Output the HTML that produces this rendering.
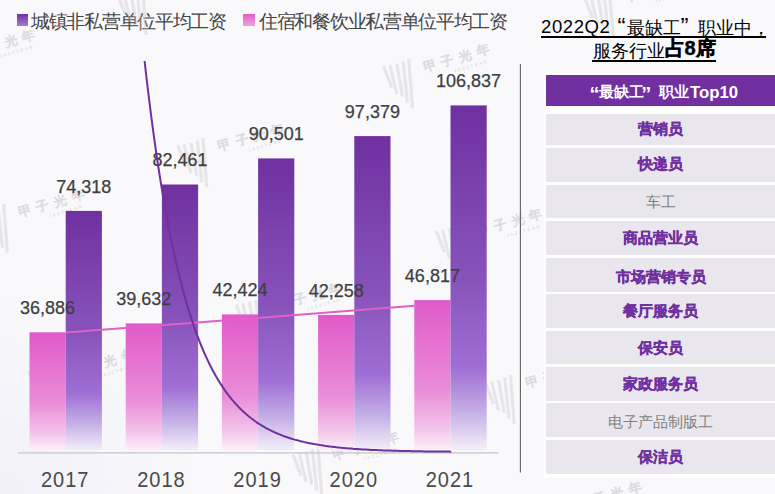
<!DOCTYPE html>
<html><head><meta charset="utf-8"><style>
*{margin:0;padding:0;box-sizing:border-box}
html,body{width:775px;height:494px;overflow:hidden;background:radial-gradient(circle at 0 100%,#f2f0f9 0,#f5f4fa 90px,rgba(249,249,251,0) 200px),#f9f9fb;font-family:"Liberation Sans",sans-serif;}
.abs{position:absolute}
svg{position:absolute;left:0;top:0}
.lb{font-family:"Liberation Sans",sans-serif;font-size:18px;fill:#3f3f3f;text-anchor:middle;stroke:#3f3f3f;stroke-width:.25px}
.yr{font-family:"Liberation Sans",sans-serif;font-size:22px;fill:#4a4a4a;text-anchor:middle;letter-spacing:1.1px}
.wm path{stroke:#c4c4c8;stroke-opacity:.36}
.wmt{font-family:"Liberation Sans",sans-serif;font-size:13px;font-weight:bold;letter-spacing:5.3px;fill:#c4c4c8;fill-opacity:.32;stroke:#c4c4c8;stroke-opacity:.32;stroke-width:.7px}
.wms{font-family:"Liberation Sans",sans-serif;font-size:4.5px;font-weight:bold;letter-spacing:1.5px;fill:#c4c4c8;fill-opacity:.5}
.leg{position:absolute;top:10.5px;font-size:19px;letter-spacing:-1.3px;color:#454545;white-space:nowrap;line-height:22px}
.sq{position:absolute;top:14.3px;width:11.6px;height:11.4px}
.tbl{position:absolute;left:544px;top:73px;width:231px;height:405px;background:#fff}
.hd{position:absolute;left:546px;top:75px;width:229px;height:31px;background:#7030a0;color:#fff;font-weight:bold;font-size:15px;line-height:31px}
.hd span{position:absolute;top:1.5px;white-space:nowrap}
.hq{font-size:20px;top:3.5px!important}
.hc{font-size:14.5px}
.hl{font-size:16.8px}
.r{position:absolute;left:546px;width:229px;background:#e9e7ed;text-align:center;font-size:15px}
.r.b{color:#7030a0;font-weight:bold;-webkit-text-stroke:.35px #7030a0}
.r.g{color:#7f7f7f}
.t1{position:absolute;top:13px;font-size:18px;line-height:24px;color:#000;white-space:nowrap}
.t2{position:absolute;top:37.5px;font-size:17.5px;line-height:24px;color:#000;white-space:nowrap}
.t1.cj{font-size:17.5px}
.t1.q{font-size:24px}
.ul{position:absolute;height:2px;background:#000}
</style></head><body>
<div class="sq" style="left:16.6px;background:linear-gradient(#7030a0,#a57ad6)"></div>
<div class="leg" style="left:31px">城镇非私营单位平均工资</div>
<div class="sq" style="left:243.2px;background:linear-gradient(#e060c8,#f0a0e0)"></div>
<div class="leg" style="left:259px">住宿和餐饮业私营单位平均工资</div>
<svg width="775" height="494" viewBox="0 0 775 494">
<defs>
<linearGradient id="gp" x1="0" y1="0" x2="0" y2="1">
<stop offset="0" stop-color="#7030a0"/>
<stop offset="0.5" stop-color="#8753bb"/>
<stop offset="0.76" stop-color="#9e6fd4"/>
<stop offset="0.89" stop-color="#c6b0e6"/>
<stop offset="1" stop-color="#f4f0fa"/>
</linearGradient>
<linearGradient id="gk" x1="0" y1="0" x2="0" y2="1">
<stop offset="0" stop-color="#e05ac8"/>
<stop offset="0.6" stop-color="#ea8dd8"/>
<stop offset="0.85" stop-color="#f3c3e9"/>
<stop offset="1" stop-color="#fcf2fa"/>
</linearGradient>
</defs>
<line x1="17.8" y1="452.9" x2="498.4" y2="452.9" stroke="#d3d3d8" stroke-width="1.8"/>
<g transform="translate(424.3,69.7)" class="wm"><path d="M-40.7,-3.4L-32.5,17.9 M-34.4,-4.7L-27.5,24.2 M-27.5,-5.9L-21.8,26.7 M-21.2,-8.4L-16.8,33.0 M-15.6,-10.9L-11.8,38.0" stroke-width="3.2" fill="none"/><text transform="rotate(-16)" x="0" y="2" class="wmt">甲子光年</text><text transform="rotate(-16)" x="28" y="11" class="wms">JAZZYEAR</text></g><g transform="translate(218.5,149)" class="wm"><path d="M-40.7,-3.4L-32.5,17.9 M-34.4,-4.7L-27.5,24.2 M-27.5,-5.9L-21.8,26.7 M-21.2,-8.4L-16.8,33.0 M-15.6,-10.9L-11.8,38.0" stroke-width="3.2" fill="none"/><text transform="rotate(-16)" x="0" y="2" class="wmt">甲子光年</text><text transform="rotate(-16)" x="28" y="11" class="wms">JAZZYEAR</text></g><g transform="translate(-30,55)" class="wm"><path d="M-40.7,-3.4L-32.5,17.9 M-34.4,-4.7L-27.5,24.2 M-27.5,-5.9L-21.8,26.7 M-21.2,-8.4L-16.8,33.0 M-15.6,-10.9L-11.8,38.0" stroke-width="3.2" fill="none"/><text transform="rotate(-16)" x="0" y="2" class="wmt">甲子光年</text><text transform="rotate(-16)" x="28" y="11" class="wms">JAZZYEAR</text></g><g transform="translate(19.2,214.7)" class="wm"><path d="M-40.7,-3.4L-32.5,17.9 M-34.4,-4.7L-27.5,24.2 M-27.5,-5.9L-21.8,26.7 M-21.2,-8.4L-16.8,33.0 M-15.6,-10.9L-11.8,38.0" stroke-width="3.2" fill="none"/><text transform="rotate(-16)" x="0" y="2" class="wmt">甲子光年</text><text transform="rotate(-16)" x="28" y="11" class="wms">JAZZYEAR</text></g><g transform="translate(69.6,374.7)" class="wm"><path d="M-40.7,-3.4L-32.5,17.9 M-34.4,-4.7L-27.5,24.2 M-27.5,-5.9L-21.8,26.7 M-21.2,-8.4L-16.8,33.0 M-15.6,-10.9L-11.8,38.0" stroke-width="3.2" fill="none"/><text transform="rotate(-16)" x="0" y="2" class="wmt">甲子光年</text><text transform="rotate(-16)" x="28" y="11" class="wms">JAZZYEAR</text></g><g transform="translate(333.6,457.7)" class="wm"><path d="M-40.7,-3.4L-32.5,17.9 M-34.4,-4.7L-27.5,24.2 M-27.5,-5.9L-21.8,26.7 M-21.2,-8.4L-16.8,33.0 M-15.6,-10.9L-11.8,38.0" stroke-width="3.2" fill="none"/><text transform="rotate(-16)" x="0" y="2" class="wmt">甲子光年</text><text transform="rotate(-16)" x="28" y="11" class="wms">JAZZYEAR</text></g><g transform="translate(477,234.5)" class="wm"><path d="M-40.7,-3.4L-32.5,17.9 M-34.4,-4.7L-27.5,24.2 M-27.5,-5.9L-21.8,26.7 M-21.2,-8.4L-16.8,33.0 M-15.6,-10.9L-11.8,38.0" stroke-width="3.2" fill="none"/><text transform="rotate(-16)" x="0" y="2" class="wmt">甲子光年</text><text transform="rotate(-16)" x="28" y="11" class="wms">JAZZYEAR</text></g><g transform="translate(526,386)" class="wm"><path d="M-40.7,-3.4L-32.5,17.9 M-34.4,-4.7L-27.5,24.2 M-27.5,-5.9L-21.8,26.7 M-21.2,-8.4L-16.8,33.0 M-15.6,-10.9L-11.8,38.0" stroke-width="3.2" fill="none"/><text transform="rotate(-16)" x="0" y="2" class="wmt">甲子光年</text><text transform="rotate(-16)" x="28" y="11" class="wms">JAZZYEAR</text></g><g transform="translate(576.6,507)" class="wm"><path d="M-40.7,-3.4L-32.5,17.9 M-34.4,-4.7L-27.5,24.2 M-27.5,-5.9L-21.8,26.7 M-21.2,-8.4L-16.8,33.0 M-15.6,-10.9L-11.8,38.0" stroke-width="3.2" fill="none"/><text transform="rotate(-16)" x="0" y="2" class="wmt">甲子光年</text><text transform="rotate(-16)" x="28" y="11" class="wms">JAZZYEAR</text></g><g transform="translate(277,308)" class="wm"><path d="M-40.7,-3.4L-32.5,17.9 M-34.4,-4.7L-27.5,24.2 M-27.5,-5.9L-21.8,26.7 M-21.2,-8.4L-16.8,33.0 M-15.6,-10.9L-11.8,38.0" stroke-width="3.2" fill="none"/><text transform="rotate(-16)" x="0" y="2" class="wmt">甲子光年</text><text transform="rotate(-16)" x="28" y="11" class="wms">JAZZYEAR</text></g><g transform="translate(158,-3)" class="wm"><path d="M-40.7,-3.4L-32.5,17.9 M-34.4,-4.7L-27.5,24.2 M-27.5,-5.9L-21.8,26.7 M-21.2,-8.4L-16.8,33.0 M-15.6,-10.9L-11.8,38.0" stroke-width="3.2" fill="none"/><text transform="rotate(-16)" x="0" y="2" class="wmt">甲子光年</text><text transform="rotate(-16)" x="28" y="11" class="wms">JAZZYEAR</text></g><g transform="translate(625,0)" class="wm"><path d="M-40.7,-3.4L-32.5,17.9 M-34.4,-4.7L-27.5,24.2 M-27.5,-5.9L-21.8,26.7 M-21.2,-8.4L-16.8,33.0 M-15.6,-10.9L-11.8,38.0" stroke-width="3.2" fill="none"/><text transform="rotate(-16)" x="0" y="2" class="wmt">甲子光年</text><text transform="rotate(-16)" x="28" y="11" class="wms">JAZZYEAR</text></g>
<rect x="29.5" y="332.3" width="36.2" height="118.3" fill="url(#gk)"/><rect x="65.7" y="210.9" width="36.2" height="239.7" fill="url(#gp)"/><rect x="125.7" y="323.4" width="36.2" height="127.2" fill="url(#gk)"/><rect x="161.9" y="184.5" width="36.2" height="266.1" fill="url(#gp)"/><rect x="221.9" y="314.4" width="36.2" height="136.2" fill="url(#gk)"/><rect x="258.1" y="158.4" width="36.2" height="292.2" fill="url(#gp)"/><rect x="318.1" y="314.9" width="36.2" height="135.7" fill="url(#gk)"/><rect x="354.3" y="136.1" width="36.2" height="314.5" fill="url(#gp)"/><rect x="414.3" y="300.1" width="36.2" height="150.5" fill="url(#gk)"/><rect x="450.5" y="105.4" width="36.2" height="345.2" fill="url(#gp)"/>
<line x1="65.9" y1="332.6" x2="414.3" y2="305.8" stroke="#e060c8" stroke-width="2"/>
<text x="83.8" y="192.6" class="lb">74,318</text><text x="47.6" y="314.0" class="lb">36,886</text><text transform="translate(65.2,487) scale(0.91,1)" class="yr">2017</text><text x="180.0" y="166.2" class="lb">82,461</text><text x="143.8" y="305.1" class="lb">39,632</text><text transform="translate(161.4,487) scale(0.91,1)" class="yr">2018</text><text x="276.2" y="140.1" class="lb">90,501</text><text x="240.0" y="296.1" class="lb">42,424</text><text transform="translate(257.6,487) scale(0.91,1)" class="yr">2019</text><text x="372.4" y="117.8" class="lb">97,379</text><text x="336.2" y="296.6" class="lb">42,258</text><text transform="translate(353.8,487) scale(0.91,1)" class="yr">2020</text><text x="468.6" y="87.1" class="lb">106,837</text><text x="432.4" y="281.8" class="lb">46,817</text><text transform="translate(450.0,487) scale(0.91,1)" class="yr">2021</text>
<path d="M144.6,61.0 L146.1,74.3 L147.6,87.1 L149.1,99.4 L150.6,111.4 L152.1,122.9 L153.6,134.1 L155.1,144.9 L156.6,155.3 L158.1,165.3 L159.6,175.0 L161.1,184.4 L162.6,193.5 L164.1,202.3 L165.6,210.7 L167.1,218.9 L168.6,226.8 L170.1,234.4 L171.6,241.8 L173.1,248.9 L174.6,255.8 L176.1,262.5 L177.6,268.9 L179.1,275.1 L180.6,281.1 L182.1,286.9 L183.6,292.5 L185.1,297.9 L186.6,303.1 L188.1,308.2 L189.6,313.0 L191.1,317.7 L192.6,322.3 L194.1,326.7 L195.6,330.9 L197.1,335.0 L198.6,339.0 L200.1,342.8 L201.6,346.5 L203.1,350.1 L204.6,353.6 L206.1,356.9 L207.6,360.1 L209.1,363.2 L210.6,366.2 L212.1,369.2 L213.6,372.0 L215.1,374.7 L216.6,377.3 L218.1,379.8 L219.6,382.3 L221.1,384.6 L222.6,386.9 L224.1,389.1 L225.6,391.3 L227.1,393.3 L228.6,395.3 L230.1,397.2 L231.6,399.1 L233.1,400.9 L234.6,402.6 L236.1,404.3 L237.6,405.9 L239.1,407.5 L240.6,409.0 L242.1,410.4 L243.6,411.8 L245.1,413.2 L246.6,414.5 L248.1,415.8 L249.6,417.0 L251.1,418.2 L252.6,419.3 L254.1,420.5 L255.6,421.5 L257.1,422.6 L258.6,423.6 L260.1,424.5 L261.6,425.4 L263.1,426.3 L264.6,427.2 L266.1,428.1 L267.6,428.9 L269.1,429.7 L270.6,430.4 L272.1,431.1 L273.6,431.9 L275.1,432.5 L276.6,433.2 L278.1,433.8 L279.6,434.4 L281.1,435.0 L282.6,435.6 L284.1,436.2 L285.6,436.7 L287.1,437.2 L288.6,437.7 L290.1,438.2 L291.6,438.7 L293.1,439.1 L294.6,439.6 L296.1,440.0 L297.6,440.4 L299.1,440.8 L300.6,441.2 L302.1,441.5 L303.6,441.9 L305.1,442.2 L306.6,442.6 L308.1,442.9 L309.6,443.2 L311.1,443.5 L312.6,443.8 L314.1,444.1 L315.6,444.3 L317.1,444.6 L318.6,444.8 L320.1,445.1 L321.6,445.3 L323.1,445.5 L324.6,445.8 L326.1,446.0 L327.6,446.2 L329.1,446.4 L330.6,446.6 L332.1,446.7 L333.6,446.9 L335.1,447.1 L336.6,447.3 L338.1,447.4 L339.6,447.6 L341.1,447.7 L342.6,447.9 L344.1,448.0 L345.6,448.2 L347.1,448.3 L348.6,448.4 L350.1,448.5 L351.6,448.6 L353.1,448.8 L354.6,448.9 L356.1,449.0 L357.6,449.1 L359.1,449.2 L360.6,449.3 L362.1,449.4 L363.6,449.5 L365.1,449.5 L366.6,449.6 L368.1,449.7 L369.6,449.8 L371.1,449.9 L372.6,449.9 L374.1,450.0 L375.6,450.1 L377.1,450.1 L378.6,450.2 L380.1,450.3 L381.6,450.3 L383.1,450.4 L384.6,450.4 L386.1,450.5 L387.6,450.5 L389.1,450.6 L390.6,450.6 L392.1,450.7 L393.6,450.7 L395.1,450.8 L396.6,450.8 L398.1,450.8 L399.6,450.9 L401.1,450.9 L402.6,451.0 L404.1,451.0 L405.6,451.0 L407.1,451.1 L408.6,451.1 L410.1,451.1 L411.6,451.2 L413.1,451.2 L414.6,451.2 L416.1,451.2 L417.6,451.3 L419.1,451.3 L420.6,451.3 L422.1,451.3 L423.6,451.4 L425.1,451.4 L426.6,451.4 L428.1,451.4 L429.6,451.4 L431.1,451.5 L432.6,451.5 L434.1,451.5 L435.6,451.5 L437.1,451.5 L438.6,451.5 L440.1,451.6 L441.6,451.6 L443.1,451.6 L444.6,451.6 L446.1,451.6 L447.6,451.6 L449.1,451.6 L450.6,451.7 L451.2,451.7" fill="none" stroke="#7030a0" stroke-width="2"/>
<line x1="520.4" y1="64" x2="520.4" y2="472.6" stroke="#606060" stroke-width="1.1"/>
</svg>
<div class="tbl"></div>
<div class="hd"><span class="hq" style="left:43.5px">“</span><span class="hc" style="left:53px">最缺工</span><span class="hq" style="left:95.3px">”</span><span class="hc" style="left:112.8px">职业</span><span class="hl" style="left:144px">Top10</span></div>
<div class="r b" style="top:114px;height:30.8px;line-height:30.8px">营销员</div>
<div class="r b" style="top:147.8px;height:33.8px;line-height:32.6px">快递员</div>
<div class="r g" style="top:184.6px;height:33.6px;line-height:34.8px">车工</div>
<div class="r b" style="top:221.2px;height:34.2px;line-height:33.6px">商品营业员</div>
<div class="r b" style="top:258.2px;height:33.4px;line-height:37.2px">市场营销专员</div>
<div class="r b" style="top:294.1px;height:33.8px;line-height:34.6px">餐厅服务员</div>
<div class="r b" style="top:330.9px;height:33.2px;line-height:33.6px">保安员</div>
<div class="r b" style="top:367.1px;height:33.7px;line-height:34.3px">家政服务员</div>
<div class="r g" style="top:403.2px;height:33.5px;line-height:37.7px">电子产品制版工</div>
<div class="r b" style="top:439.7px;height:33.9px;line-height:34.3px">保洁员</div>

<div class="t1" style="left:541px;top:15px;font-size:18.5px;letter-spacing:.6px">2022Q2</div>
<div class="t1 q" style="left:617.5px;top:15px">“</div>
<div class="t1 cj" style="left:626.5px;top:16.3px">最缺工</div>
<div class="t1 q" style="left:680.5px;top:15px">”</div>
<div class="t1 cj" style="left:697.5px;top:16.3px">职业中</div>
<div class="t1 cj" style="left:752px;top:16.3px">，</div>
<div class="t2 cj" style="left:592.5px">服务行业<b style="font-size:20px;position:relative;top:-1.3px;-webkit-text-stroke:.4px #000">占8席</b></div>
<div class="ul" style="left:541.2px;top:36px;width:224.5px"></div>
<div class="ul" style="left:592.3px;top:59.5px;width:124px"></div>
</body></html>
